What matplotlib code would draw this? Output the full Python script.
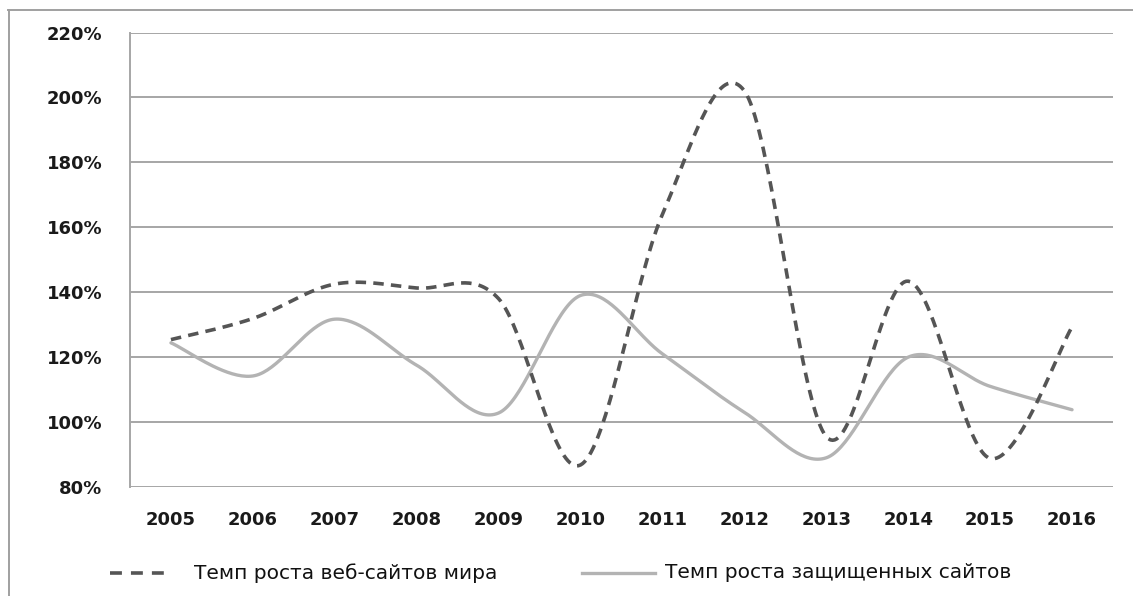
import numpy as np
import matplotlib
matplotlib.use("Agg")
import matplotlib.pyplot as plt
from matplotlib.lines import Line2D
from matplotlib.ticker import FuncFormatter

# Growth rates, percent
years = ["2005", "2006", "2007", "2008", "2009", "2010",
         "2011", "2012", "2013", "2014", "2015", "2016"]
web_growth = [125.4, 131.9, 142.5, 141.3, 138.0, 86.8,
              164.0, 202.0, 95.5, 143.4, 88.8, 129.3]
secure_growth = [124.4, 114.2, 131.7, 117.5, 102.8, 139.0,
                 121.0, 103.0, 89.0, 120.0, 111.0, 103.8]
series_names = ["Темп роста веб-сайтов мира", "Темп роста защищенных сайтов"]
y_ticks = [80, 100, 120, 140, 160, 180, 200, 220]


def smooth(xs, ys, steps=40):
    """Cubic Bezier smoothing through every point (Catmull-Rom style)."""
    p = np.column_stack([xs, ys]).astype(float)
    ext = np.vstack([p[0], p, p[-1]])
    out = []
    t = np.linspace(0, 1, steps)[:, None]
    for i in range(len(p) - 1):
        p0, p1, p2, p3 = ext[i], ext[i + 1], ext[i + 2], ext[i + 3]
        c1 = p1 + (p2 - p0) / 6.0
        c2 = p2 - (p3 - p1) / 6.0
        seg = ((1 - t) ** 3) * p1 + 3 * ((1 - t) ** 2) * t * c1 \
            + 3 * (1 - t) * t ** 2 * c2 + t ** 3 * p2
        out.append(seg if i == 0 else seg[1:])
    out = np.vstack(out)
    return out[:, 0], out[:, 1]


W, H = 1133, 596
fig = plt.figure(figsize=(W / 100, H / 100), dpi=100)
fig.patch.set_facecolor("white")

ax = fig.add_axes([130 / W, 1 - 487 / H, (1113 - 130) / W, (487 - 32.5) / H])

x = np.arange(len(years))
grid_col = "#a6a6a6"
dash_col = "#555555"
solid_col = "#b3b3b3"
dash_style = (0, (2.9, 2.0))

for v in y_ticks:
    ax.axhline(v, color=grid_col, lw=1.4, zorder=1)

sx, sy = smooth(x, secure_growth)
ax.plot(sx, sy, color=solid_col, lw=2.4, solid_capstyle="round", zorder=3)
dx, dy = smooth(x, web_growth)
ax.plot(dx, dy, color=dash_col, lw=2.6, linestyle=dash_style, zorder=4)

ax.set_xlim(-0.5, len(years) - 0.5)
ax.set_ylim(80, 220)
ax.set_yticks(y_ticks)
ax.yaxis.set_major_formatter(FuncFormatter(lambda v, _: f"{v:.0f}%"))
ax.set_xticks(x)
ax.set_xticklabels(years)

for s in ["top", "right", "bottom"]:
    ax.spines[s].set_visible(False)
ax.spines["left"].set_color(grid_col)
ax.spines["left"].set_linewidth(1.4)

ax.tick_params(axis="both", length=0, colors="#1a1a1a")
ax.tick_params(axis="y", pad=20)
ax.tick_params(axis="x", pad=17)
for lab in ax.get_xticklabels() + ax.get_yticklabels():
    lab.set_fontfamily("DejaVu Sans")
    lab.set_fontweight("bold")
    lab.set_fontsize(13)

# outer chart frame
fig.add_artist(Line2D([8.5 / W, 8.5 / W], [0, 1 - 10 / H],
                      transform=fig.transFigure, color="#a0a0a0", lw=1.4))
fig.add_artist(Line2D([8 / W, 1], [1 - 10 / H, 1 - 10 / H],
                      transform=fig.transFigure, color="#a0a0a0", lw=1.4))

# legend, laid out in figure pixels
ly = 1 - 573 / H
fig.add_artist(Line2D([110 / W, 164 / W], [ly, ly], transform=fig.transFigure,
                      color=dash_col, lw=2.6, linestyle=(0, (3.3, 2.5))))
fig.text(194 / W, ly, series_names[0], transform=fig.transFigure,
         ha="left", va="center", fontsize=14.5, family="DejaVu Sans",
         color="#111111")
fig.add_artist(Line2D([582 / W, 655 / W], [ly, ly], transform=fig.transFigure,
                      color=solid_col, lw=2.4))
fig.text(665 / W, ly, series_names[1], transform=fig.transFigure,
         ha="left", va="center", fontsize=14.5, family="DejaVu Sans",
         color="#111111")

fig.savefig("out.png", dpi=100, facecolor="white")
